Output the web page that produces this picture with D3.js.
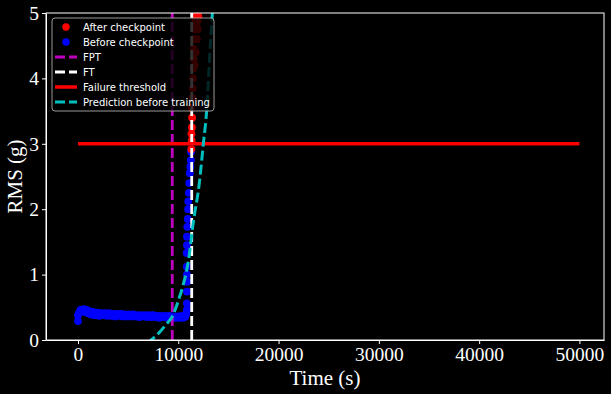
<!DOCTYPE html>
<html>
  <head>
    <meta charset="utf-8">
    <title>RMS over time</title>
    <script src="https://cdn.jsdelivr.net/npm/d3@7/dist/d3.min.js"></script>
    <style>
      body { margin: 0; background: #000; }
      svg { display: block; }
      .tick text { font-family: "Liberation Serif", serif; font-size: 19.5px; fill: #fff; }
      .tick line, .domain { stroke: #fff; }
      .axisLabel { font-family: "Liberation Serif", serif; font-size: 21px; fill: #fff; }
      .legendText { font-family: "DejaVu Sans", sans-serif; font-size: 10px; fill: #fff; }
    </style>
  </head>
  <body>
    <svg id="chart" width="611" height="394"></svg>

    <script>
      // data
      blueX = [0, 0, 120, 250, 400, 550, 700, 850, 1000, 1150, 1300, 1500, 1700, 1900, 2100, 2300, 2500, 2700, 2900,
        3100, 3300, 3500, 3700, 3900, 4100, 4300, 4500, 4700, 4900, 5100, 5300, 5500, 5700, 5900, 6100, 6300, 6500,
        6700, 6900, 7100, 7300, 7500, 7700, 7900, 8100, 8300, 8500, 8700, 8900, 9100, 9300, 9500, 9700, 9900, 10100,
        10300, 10500, 10700, 10800,
        10850, 10860, 10870, 10880, 10860, 10850, 10840, 10870, 10860, 10900, 10950, 10980, 11000, 11050, 11100, 11150,
        11200, 11250, 11280];
      blueY = [0.29, 0.38, 0.42, 0.46, 0.44, 0.47, 0.43, 0.46, 0.41, 0.44, 0.39, 0.43, 0.38, 0.42, 0.37, 0.41, 0.38,
        0.41, 0.37, 0.41, 0.37, 0.40, 0.36, 0.40, 0.37, 0.40, 0.36, 0.39, 0.36, 0.39, 0.36, 0.39, 0.36, 0.38, 0.35,
        0.38, 0.36, 0.38, 0.35, 0.38, 0.35, 0.38, 0.35, 0.37, 0.34, 0.37, 0.35, 0.37, 0.34, 0.37, 0.34, 0.36, 0.34,
        0.36, 0.34, 0.37, 0.34, 0.36, 0.40,
        0.46, 0.56, 0.74, 0.89, 1.00, 1.12, 1.33, 1.45, 1.58, 1.73, 1.85, 2.00, 2.12, 2.25, 2.40, 2.55, 2.65, 2.75, 2.88];
      redX = [11300, 11340, 11320, 11360, 11380, 11300, 11420, 11450, 11480, 11500, 11540, 11560, 11600, 11650, 11700,
        11750, 11800, 11850, 11900, 11950, 12000, 11650, 11750, 11850, 11950, 12000];
      redY = [2.92, 3.05, 3.15, 3.25, 3.40, 3.55, 3.70, 3.85, 4.00, 4.15, 4.30, 4.45, 4.60, 4.75, 4.90, 5.00, 4.95,
        4.85, 5.05, 4.90, 4.95, 4.20, 4.40, 4.60, 4.75, 5.10];
      predX = [6900, 7300, 8200, 8800, 9400, 10000, 10500, 11000, 11500, 12100, 12500, 12850, 13150, 13400, 13550];
      predY = [-0.05, 0.00, 0.13, 0.24, 0.36, 0.60, 0.85, 1.20, 1.80, 2.40, 3.00, 3.55, 4.40, 5.00, 5.40];
      fpt = 9400;
      ft = 11340;
      threshold = 3;
      thresholdX = [0, 50000];
      xTicks = [0, 10000, 20000, 30000, 40000, 50000];
      yTicks = [0, 1, 2, 3, 4, 5];
      legendItems = [
        { label: "After checkpoint", kind: "dot", colour: "#ff0000" },
        { label: "Before checkpoint", kind: "dot", colour: "#0000ff" },
        { label: "FPT", kind: "dash", colour: "#bf00bf" },
        { label: "FT", kind: "dash", colour: "#ffffff" },
        { label: "Failure threshold", kind: "solid", colour: "#ff0000" },
        { label: "Prediction before training", kind: "dash", colour: "#00bfbf" }
      ];

      // page elements
      svg = d3.select("#chart");
      plotLeft = 46; plotRight = 604; plotTop = 13; plotBottom = 340;

      x = d3.scaleLinear().domain([-3190, 52450]).range([plotLeft, plotRight]);
      y = d3.scaleLinear().domain([0, 5]).range([plotBottom, plotTop]);

      svg.append("clipPath").attr("id", "plotClip")
        .append("rect")
          .attr("x", plotLeft).attr("y", plotTop)
          .attr("width", plotRight - plotLeft).attr("height", plotBottom - plotTop);

      plot = svg.append("g").attr("clip-path", "url(#plotClip)");

      // scatter
      plot.selectAll(".blue")
        .data(blueX.map(function(d, i) { return [d, blueY[i]]; }))
      .enter().append("circle")
        .attr("cx", function(d) { return x(d[0]); })
        .attr("cy", function(d) { return y(d[1]); })
        .attr("r", 3.9)
        .style("fill", "#0000ff");
      plot.selectAll(".red")
        .data(redX.map(function(d, i) { return [d, redY[i]]; }))
      .enter().append("circle")
        .attr("cx", function(d) { return x(d[0]); })
        .attr("cy", function(d) { return y(d[1]); })
        .attr("r", 3.9)
        .style("fill", "#ff0000");

      // vertical lines
      [[fpt, "#bf00bf"], [ft, "#ffffff"]].forEach(function(d) {
        plot.append("line")
          .attr("x1", x(d[0])).attr("x2", x(d[0]))
          .attr("y1", plotBottom).attr("y2", plotTop)
          .style("stroke", d[1])
          .style("stroke-width", 2.8)
          .style("stroke-dasharray", "10,4");
      });

      // threshold
      plot.append("line")
        .attr("x1", x(thresholdX[0])).attr("x2", x(thresholdX[1]))
        .attr("y1", y(threshold)).attr("y2", y(threshold))
        .style("stroke", "#ff0000")
        .style("stroke-width", 3.5);

      // prediction
      line = d3.line()
        .x(function(d) { return x(d[0]); })
        .y(function(d) { return y(d[1]); })
        .curve(d3.curveMonotoneX);
      plot.append("path")
        .datum(predX.map(function(d, i) { return [d, predY[i]]; }))
        .attr("d", line)
        .style("fill", "none")
        .style("stroke", "#00bfbf")
        .style("stroke-width", 3)
        .style("stroke-dasharray", "10,4");

      // axes
      svg.append("g")
        .attr("transform", "translate(0," + plotBottom + ")")
        .call(d3.axisBottom(x).tickValues(xTicks).tickFormat(d3.format("d")).tickSize(4).tickSizeOuter(0).tickPadding(3));
      svg.append("g")
        .attr("transform", "translate(" + plotLeft + ",0)")
        .call(d3.axisLeft(y).tickValues(yTicks).tickFormat(d3.format("d")).tickSize(4).tickSizeOuter(0).tickPadding(3));
      svg.append("rect")
        .attr("x", plotLeft).attr("y", plotTop)
        .attr("width", plotRight - plotLeft).attr("height", plotBottom - plotTop)
        .style("fill", "none")
        .style("stroke", "#fff");

      svg.append("text")
        .attr("class", "axisLabel")
        .attr("x", (plotLeft + plotRight) / 2)
        .attr("y", 385)
        .attr("text-anchor", "middle")
        .text("Time (s)");
      svg.append("text")
        .attr("class", "axisLabel")
        .attr("transform", "translate(22," + (plotTop + plotBottom) / 2 + ") rotate(-90)")
        .attr("text-anchor", "middle")
        .text("RMS (g)");

      // legend
      legend = svg.append("g").attr("transform", "translate(52,18)");
      legend.append("rect")
        .attr("width", 162).attr("height", 93)
        .attr("rx", 3)
        .style("fill", "#000")
        .style("fill-opacity", 0.8)
        .style("stroke", "#aaa")
        .style("stroke-opacity", 0.9);
      rows = legend.selectAll(".row")
        .data(legendItems)
      .enter().append("g")
        .attr("transform", function(d, i) { return "translate(0," + (9 + i * 15) + ")"; });
      rows.filter(function(d) { return d.kind == "dot"; })
        .append("circle")
          .attr("cx", 14).attr("cy", 0).attr("r", 3.7)
          .style("fill", function(d) { return d.colour; });
      rows.filter(function(d) { return d.kind != "dot"; })
        .append("line")
          .attr("x1", 3).attr("x2", 25)
          .style("stroke", function(d) { return d.colour; })
          .style("stroke-width", function(d) { return d.kind == "solid" ? 3.5 : 2.8; })
          .style("stroke-dasharray", function(d) { return d.kind == "dash" ? "10,4" : null; });
      rows.append("text")
        .attr("class", "legendText")
        .attr("x", 31)
        .attr("dy", "0.35em")
        .text(function(d) { return d.label; });
    </script>
  </body>
</html>
